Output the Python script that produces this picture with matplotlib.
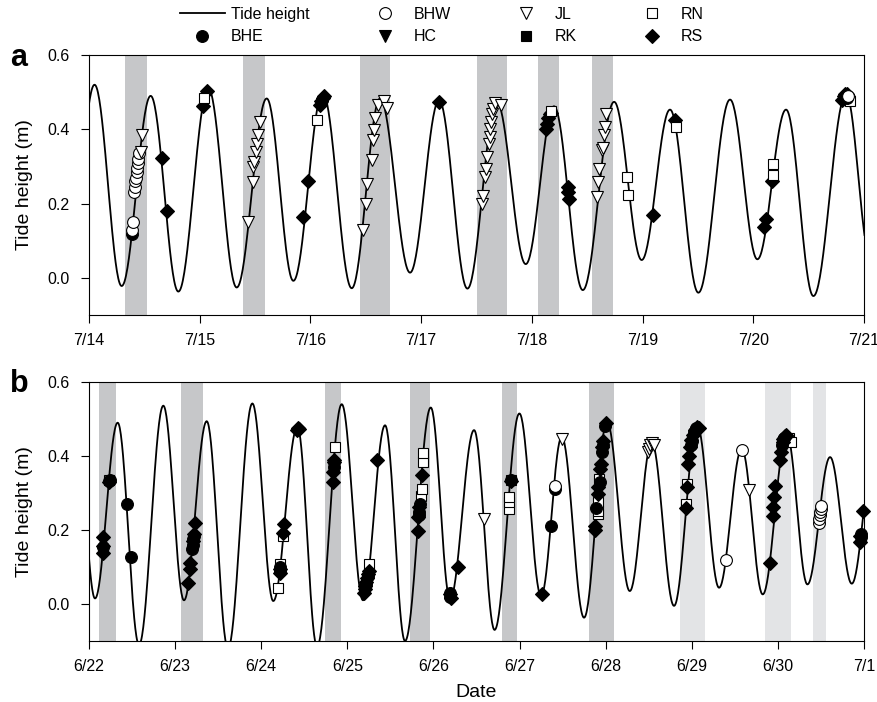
import numpy as np
import matplotlib
matplotlib.use('Agg')
import matplotlib.pyplot as plt
from matplotlib.lines import Line2D

plt.rcParams['font.family'] = ['Liberation Sans', 'DejaVu Sans']

# ---------------- data (days since first tick) ----------------
a_ticklabels = ['7/14', '7/15', '7/16', '7/17', '7/18', '7/19', '7/20', '7/21']
b_ticklabels = ['6/22', '6/23', '6/24', '6/25', '6/26', '6/27', '6/28', '6/29', '6/30', '7/1']

# tide extrema (time, height)
a_ext_t = [-0.20, 0.05, 0.295, 0.557, 0.807, 1.078, 1.334, 1.605, 1.846, 2.111, 2.373,
           2.629, 2.90, 3.162, 3.418, 3.683, 3.945, 4.20, 4.46, 4.743, 4.992, 5.248,
           5.504, 5.79, 6.037, 6.296, 6.543, 6.838, 7.06]
a_ext_h = [-0.02, 0.52, -0.022, 0.49, -0.037, 0.51, -0.026, 0.483, -0.008, 0.498, -0.028,
           0.483, 0.014, 0.478, -0.029, 0.474, 0.037, 0.462, -0.033, 0.474, 0.048, 0.453,
           -0.04, 0.48, 0.05, 0.453, -0.049, 0.495, 0.05]

b_ext_t = [-0.15, 0.07, 0.333, 0.581, 0.863, 1.103, 1.367, 1.614, 1.897, 2.14, 2.42,
           2.648, 2.935, 3.182, 3.438, 3.67, 3.969, 4.193, 4.472, 4.71, 4.998, 5.25,
           5.49, 5.749, 6.016, 6.28, 6.535, 6.794, 7.062, 7.317, 7.58, 7.824, 8.103,
           8.343, 8.606, 8.858, 9.13]
b_ext_h = [0.49, 0.015, 0.49, -0.11, 0.536, 0.01, 0.494, -0.12, 0.542, 0.008, 0.479,
           -0.115, 0.54, 0.01, 0.483, -0.10, 0.531, 0.013, 0.47, -0.07, 0.515, 0.022,
           0.452, -0.037, 0.492, 0.035, 0.437, -0.005, 0.483, 0.044, 0.42, 0.026, 0.459,
           0.053, 0.397, 0.055, 0.44]

# shaded sampling windows
a_band_start = [0.323, 1.389, 2.447, 3.505, 4.056, 4.544]
a_band_end = [0.521, 1.587, 2.723, 3.771, 4.249, 4.736]
b_band_start = [0.114, 1.066, 2.739, 3.726, 4.795, 5.806, 6.864, 7.851, 8.406]
b_band_end = [0.309, 1.326, 2.928, 3.962, 4.973, 6.095, 7.154, 8.153, 8.560]
b_band_kind = ['dark', 'dark', 'dark', 'dark', 'dark', 'dark', 'light', 'light', 'light']

# panel a observations
a_BHE_t = [0.385, 2.105, 6.84, 6.85]
a_BHE_h = [0.118, 0.48, 0.49, 0.485]
a_BHW_t = [0.39, 0.395, 0.41, 0.415, 0.42, 0.425, 0.43, 0.435, 0.44, 0.445, 0.45, 6.855]
a_BHW_h = [0.13, 0.15, 0.23, 0.245, 0.26, 0.27, 0.285, 0.295, 0.31, 0.32, 0.335, 0.49]
a_JL_t = [0.47, 0.476, 1.44, 1.478, 1.484, 1.49, 1.509, 1.52, 1.53, 1.545,
          2.478, 2.50, 2.508, 2.554, 2.569, 2.575, 2.584, 2.614, 2.665, 2.695,
          3.547, 3.56, 3.577, 3.585, 3.593, 3.61, 3.62, 3.625, 3.63, 3.64, 3.65, 3.668, 3.719,
          4.592, 4.60, 4.61, 4.631, 4.64, 4.65, 4.657, 4.667]
a_JL_h = [0.34, 0.384, 0.15, 0.258, 0.298, 0.312, 0.339, 0.36, 0.384, 0.42,
          0.13, 0.2, 0.253, 0.316, 0.37, 0.397, 0.43, 0.465, 0.476, 0.456,
          0.199, 0.22, 0.271, 0.294, 0.325, 0.36, 0.38, 0.40, 0.42, 0.44, 0.455, 0.471, 0.466,
          0.217, 0.258, 0.294, 0.343, 0.35, 0.384, 0.405, 0.442]
a_RN_t = [1.039, 2.062, 4.17, 4.857, 4.872, 5.302, 6.176, 6.176, 6.87]
a_RN_h = [0.483, 0.426, 0.45, 0.271, 0.224, 0.406, 0.307, 0.278, 0.475]
a_RS_t = [0.657, 0.708, 1.033, 1.069, 1.936, 1.981, 2.09, 2.10, 2.115, 2.125, 3.162,
          4.13, 4.14, 4.15, 4.16, 4.17, 4.325, 4.33, 4.335, 5.092, 5.294,
          6.1, 6.113, 6.167, 6.80, 6.82, 6.83, 6.845, 6.86]
a_RS_h = [0.323, 0.181, 0.462, 0.504, 0.163, 0.262, 0.465, 0.475, 0.485, 0.49, 0.474,
          0.40, 0.415, 0.43, 0.44, 0.445, 0.245, 0.23, 0.212, 0.17, 0.424,
          0.138, 0.159, 0.262, 0.478, 0.49, 0.495, 0.495, 0.49]

# panel b observations
b_BHE_t = [0.16, 0.232, 0.24, 0.438, 0.484, 1.20, 1.205, 1.21, 1.215, 2.215, 2.22,
           2.845, 2.85, 3.215, 3.235, 3.83, 3.835, 3.84, 4.19, 4.195, 4.9, 5.362, 5.41,
           5.89, 5.93, 5.96, 5.97, 5.995, 6.99, 7.0, 7.03, 7.05, 8.045, 8.075, 8.96, 8.965]
b_BHE_h = [0.155, 0.333, 0.335, 0.269, 0.128, 0.15, 0.16, 0.175, 0.185, 0.09, 0.10,
           0.37, 0.385, 0.055, 0.075, 0.24, 0.25, 0.27, 0.03, 0.02, 0.335, 0.212, 0.31,
           0.26, 0.33, 0.41, 0.43, 0.48, 0.43, 0.44, 0.465, 0.475, 0.43, 0.45, 0.18, 0.19]
b_BHW_t = [5.412, 7.394, 7.58, 8.475, 8.48, 8.485, 8.49, 8.495, 8.5]
b_BHW_h = [0.32, 0.119, 0.417, 0.218, 0.23, 0.24, 0.25, 0.258, 0.266]
b_JL_t = [4.592, 5.49, 6.49, 6.50, 6.52, 6.54, 6.56, 7.665]
b_JL_h = [0.23, 0.447, 0.41, 0.42, 0.43, 0.435, 0.43, 0.307]
b_RN_t = [0.236, 2.19, 2.218, 2.257, 2.857, 3.256, 3.856, 3.862, 3.876, 3.883,
          4.878, 4.878, 4.878, 4.898, 5.908, 5.91, 5.913, 5.927, 6.934, 6.949, 8.13, 8.15]
b_RN_h = [0.335, 0.044, 0.108, 0.185, 0.423, 0.109, 0.293, 0.311, 0.384, 0.408,
          0.257, 0.275, 0.289, 0.335, 0.243, 0.252, 0.275, 0.339, 0.271, 0.323, 0.45, 0.438]
b_RS_t = [0.159, 0.16, 0.162, 0.236, 1.153, 1.17, 1.175, 1.212, 1.22, 1.231,
          2.215, 2.22, 2.256, 2.265, 2.42, 2.43, 2.44, 2.83, 2.835, 2.843, 2.848,
          3.19, 3.20, 3.21, 3.22, 3.23, 3.24, 3.25, 3.35, 3.817, 3.825, 3.837, 3.864,
          4.193, 4.2, 4.289, 4.897, 5.258, 5.877, 5.88, 5.912, 5.915, 5.94, 5.943, 5.96,
          5.966, 6.005, 6.93, 6.94, 6.96, 6.97, 6.98, 6.99, 7.019, 7.04, 7.065, 7.08,
          7.909, 7.94, 7.945, 7.956, 7.967, 8.026, 8.04, 8.056, 8.06, 8.07, 8.08, 8.09, 8.1,
          8.95, 8.955, 8.993]
b_RS_h = [0.137, 0.157, 0.182, 0.33, 0.058, 0.094, 0.112, 0.171, 0.189, 0.218,
          0.085, 0.095, 0.193, 0.216, 0.47, 0.475, 0.472, 0.33, 0.357, 0.384, 0.39,
          0.03, 0.04, 0.05, 0.06, 0.07, 0.08, 0.09, 0.39, 0.198, 0.234, 0.262, 0.348,
          0.026, 0.015, 0.1, 0.332, 0.026, 0.212, 0.2, 0.298, 0.316, 0.366, 0.379, 0.423,
          0.44, 0.488, 0.26, 0.316, 0.379, 0.4, 0.424, 0.444, 0.456, 0.47, 0.479, 0.475,
          0.112, 0.239, 0.261, 0.289, 0.32, 0.388, 0.411, 0.438, 0.445, 0.45, 0.455, 0.456, 0.455,
          0.167, 0.185, 0.252]

# ---------------- styles ----------------
STY = {
    'BHE': dict(marker='o', facecolor='black', ms=8.5),
    'BHW': dict(marker='o', facecolor='white', ms=8.5),
    'HC': dict(marker='v', facecolor='black', ms=9),
    'JL': dict(marker='v', facecolor='white', ms=9),
    'RK': dict(marker='s', facecolor='black', ms=7.5),
    'RN': dict(marker='s', facecolor='white', ms=7.5),
    'RS': dict(marker='D', facecolor='black', ms=7),
}
DARK = '#c6c7c9'
LIGHT = '#e3e4e6'


def tide_line(tt, hh, n=40):
    xs, ys = [], []
    for i in range(len(tt) - 1):
        s = np.linspace(0, 1, n, endpoint=False)
        xs.append(tt[i] + (tt[i + 1] - tt[i]) * s)
        ys.append(hh[i] + (hh[i + 1] - hh[i]) * (1 - np.cos(np.pi * s)) / 2)
    xs.append([tt[-1]])
    ys.append([hh[-1]])
    return np.concatenate(xs), np.concatenate(ys)


def pts(ax, name, t, h, z):
    st = STY[name]
    ax.plot(t, h, linestyle='none', marker=st['marker'], markersize=st['ms'],
            markerfacecolor=st['facecolor'], markeredgecolor='black',
            markeredgewidth=0.8, zorder=z, clip_on=False)


fig = plt.figure(figsize=(8.78, 7.02), dpi=100)
L, R = 89 / 878, 864 / 878
ax_a = fig.add_axes([L, 1 - 315 / 702, R - L, (315 - 55) / 702])
ax_b = fig.add_axes([L, 1 - 641 / 702, R - L, (641 - 382) / 702])

for ax, ext_t, ext_h, labels in [(ax_a, a_ext_t, a_ext_h, a_ticklabels),
                                 (ax_b, b_ext_t, b_ext_h, b_ticklabels)]:
    x, y = tide_line(ext_t, ext_h)
    ax.plot(x, y, color='black', lw=1.3, zorder=3)
    ax.set_xlim(0, len(labels) - 1)
    ax.set_ylim(-0.1, 0.6)
    ax.set_xticks(range(len(labels)))
    ax.set_xticklabels(labels)
    ax.set_yticks([0.0, 0.2, 0.4, 0.6])
    ax.set_yticklabels(['0.0', '0.2', '0.4', '0.6'])
    ax.tick_params(direction='out', length=6, width=0.8, labelsize=11.5, pad=8)
    ax.tick_params(axis='x', pad=7)
    for sp in ax.spines.values():
        sp.set_linewidth(0.8)
    ax.set_ylabel('Tide height (m)', fontsize=14, labelpad=10)

for s, e in zip(a_band_start, a_band_end):
    ax_a.axvspan(s, e, color=DARK, lw=0, zorder=1)
for s, e, k in zip(b_band_start, b_band_end, b_band_kind):
    ax_b.axvspan(s, e, color=DARK if k == 'dark' else LIGHT, lw=0, zorder=1)

pts(ax_a, 'RS', a_RS_t, a_RS_h, 4)
pts(ax_a, 'RN', a_RN_t, a_RN_h, 5)
pts(ax_a, 'BHE', a_BHE_t, a_BHE_h, 6)
pts(ax_a, 'BHW', a_BHW_t, a_BHW_h, 7)
pts(ax_a, 'JL', a_JL_t, a_JL_h, 8)

pts(ax_b, 'RN', b_RN_t, b_RN_h, 4)
pts(ax_b, 'RS', b_RS_t, b_RS_h, 5)
pts(ax_b, 'BHE', b_BHE_t, b_BHE_h, 6)
pts(ax_b, 'BHW', b_BHW_t, b_BHW_h, 7)
pts(ax_b, 'JL', b_JL_t, b_JL_h, 8)

ax_b.set_xlabel('Date', fontsize=14, labelpad=7)

fig.text(10 / 878, 1 - 66 / 702, 'a', fontsize=22, fontweight='bold', ha='left', va='baseline')
fig.text(10 / 878, 1 - 392 / 702, 'b', fontsize=22, fontweight='bold', ha='left', va='baseline')

# legend
handles = [Line2D([], [], color='black', lw=1.3)]
names = ['BHE', 'BHW', 'HC', 'JL', 'RK', 'RN', 'RS']
for n in names:
    st = STY[n]
    handles.append(Line2D([], [], linestyle='none', marker=st['marker'], markersize=st['ms'],
                          markerfacecolor=st['facecolor'], markeredgecolor='black',
                          markeredgewidth=0.8))
leg_labels = ['Tide height'] + names
fig.legend(handles, leg_labels, ncol=4, loc='upper left',
           bbox_to_anchor=(180 / 878, 1 - 7 / 702), frameon=False, fontsize=11.5,
           handlelength=2.8, handletextpad=0.4, columnspacing=3.3, labelspacing=0.45,
           borderpad=0, borderaxespad=0)

fig.savefig('out.png', dpi=100)
